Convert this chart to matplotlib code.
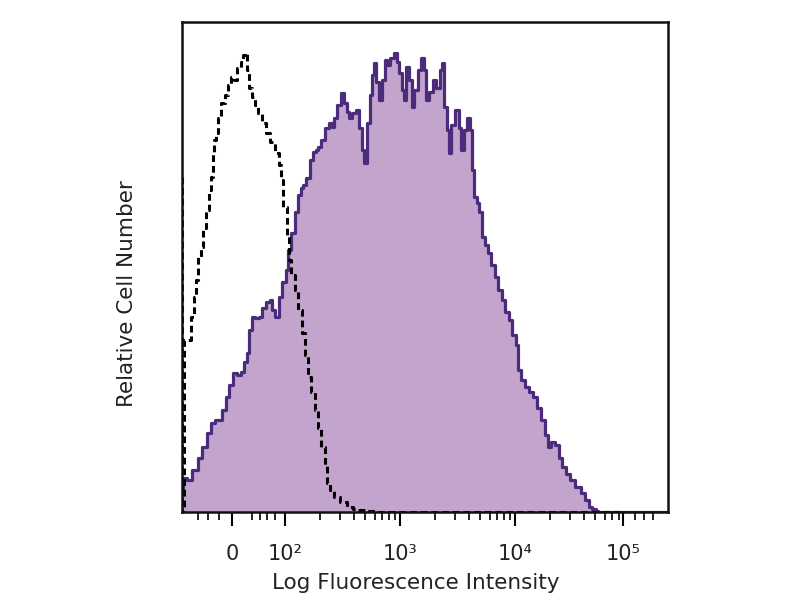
import math
import matplotlib
matplotlib.use("Agg")
import matplotlib.pyplot as plt

# x in decade units (2 = 10^2, 3 = 10^3 ...), y = relative cell number (% of axis height)
purple_x = [1.10, 1.13, 1.17, 1.22, 1.26, 1.30, 1.35, 1.37, 1.41, 1.43,
            1.47, 1.50, 1.53, 1.57, 1.60, 1.63, 1.65, 1.68, 1.70, 1.72,
            1.76, 1.78, 1.82, 1.85, 1.88, 1.90, 1.93, 1.96, 1.99, 2.02,
            2.04, 2.07, 2.10, 2.12, 2.15, 2.17, 2.20, 2.23, 2.25, 2.28,
            2.30, 2.33, 2.37, 2.39, 2.42, 2.44, 2.47, 2.50, 2.52, 2.55,
            2.57, 2.60, 2.63, 2.65, 2.68, 2.70, 2.72, 2.75, 2.77, 2.78,
            2.80, 2.83, 2.85, 2.88, 2.90, 2.93, 2.96, 2.98, 3.00, 3.03,
            3.04, 3.07, 3.09, 3.11, 3.14, 3.17, 3.19, 3.22, 3.24, 3.27,
            3.30, 3.33, 3.36, 3.37, 3.39, 3.42, 3.43, 3.46, 3.50, 3.52,
            3.54, 3.57, 3.59, 3.62, 3.63, 3.65, 3.68, 3.70, 3.72, 3.75,
            3.78, 3.81, 3.84, 3.87, 3.90, 3.93, 3.96, 3.99, 4.02, 4.04,
            4.07, 4.10, 4.14, 4.17, 4.21, 4.24, 4.28, 4.30, 4.33, 4.37,
            4.39, 4.42, 4.46, 4.50, 4.55, 4.59, 4.63, 4.65, 4.69, 4.71,
            4.74, 5.33]
purple_y = [4.5, 6.9, 6.5, 8.6, 11.0, 13.3, 16.1, 18.2, 18.8, 18.8,
            20.8, 23.5, 25.9, 28.4, 28.0, 28.6, 30.6, 32.4, 37.1, 39.8,
            39.6, 39.8, 41.6, 42.9, 43.3, 41.2, 39.8, 43.9, 46.9, 49.4,
            53.5, 56.9, 61.2, 64.7, 66.1, 66.7, 68.2, 71.8, 73.5, 73.9,
            74.5, 75.9, 78.4, 79.4, 78.6, 80.4, 83.1, 85.5, 83.5, 81.6,
            80.4, 81.4, 82.0, 78.4, 73.9, 71.2, 79.4, 85.1, 89.2, 91.6,
            87.8, 84.1, 88.2, 92.2, 91.2, 92.7, 93.7, 91.8, 89.6, 86.1,
            84.1, 90.8, 88.2, 82.7, 86.1, 90.2, 92.7, 90.2, 84.1, 85.7,
            88.2, 86.5, 90.2, 91.6, 82.7, 78.0, 73.3, 79.0, 82.0, 78.4,
            73.9, 78.0, 80.4, 78.0, 69.8, 64.3, 63.1, 61.2, 56.1, 54.5,
            52.9, 50.4, 48.0, 45.3, 43.3, 40.8, 39.2, 36.1, 34.1, 29.0,
            26.9, 25.5, 24.5, 23.5, 21.2, 18.8, 15.7, 13.3, 14.3, 13.7,
            11.0, 9.2, 7.8, 6.5, 5.1, 3.9, 2.4, 1.0, 0.6, 0.2,
            0.0, 0.0]

control_x = [1.104, 1.11, 1.14, 1.17, 1.20, 1.22, 1.23, 1.26, 1.28, 1.30,
             1.32, 1.35, 1.37, 1.38, 1.39, 1.41, 1.43, 1.46, 1.49, 1.51,
             1.55, 1.57, 1.60, 1.63, 1.64, 1.66, 1.68, 1.70, 1.72, 1.75,
             1.78, 1.82, 1.85, 1.89, 1.93, 1.96, 1.97, 2.00, 2.03, 2.04,
             2.07, 2.10, 2.13, 2.16, 2.18, 2.22, 2.24, 2.28, 2.30, 2.33,
             2.36, 2.37, 2.41, 2.45, 2.50, 2.57, 2.61, 2.65, 2.74, 2.83,
             4.90]
control_y = [68.4, 0.0, 35.1, 35.1, 39.8, 43.9, 47.3, 52.0, 54.1, 58.0,
             61.6, 65.7, 68.4, 73.3, 75.9, 77.3, 80.4, 83.5, 85.1, 87.1,
             88.8, 88.2, 90.6, 91.8, 93.3, 93.7, 90.2, 86.5, 84.7, 83.1,
             81.4, 79.4, 77.3, 75.5, 73.3, 70.8, 67.8, 62.2, 56.5, 51.4,
             48.4, 45.3, 41.2, 36.5, 32.0, 27.6, 24.5, 20.8, 17.1, 13.3,
             9.6, 5.9, 4.5, 3.1, 2.0, 1.0, 0.6, 0.4, 0.2, 0.0,
             0.0]

tick_pos = [1.54, 2.0, 3.0, 4.0, 4.94]
tick_labels = ["0", "10²", "10³", "10⁴", "10⁵"]

fill_color = "#C2A4CC"
edge_color = "#4B2B7B"
text_color = "#222222"

fig = plt.figure(figsize=(8, 6), dpi=100)
ax = fig.add_axes([182 / 800, 88 / 600, 486 / 800, 490 / 600])

ax.fill_between(purple_x, purple_y, step="mid", color=fill_color, linewidth=0)
ax.plot(purple_x, purple_y, drawstyle="steps-mid", color=edge_color, lw=2.3)
ax.plot(control_x, control_y, drawstyle="steps-mid", color="black", lw=2.2,
        linestyle=(0, (2.2, 1.3)))

ax.set_xlim(1.104, 5.33)
ax.set_ylim(0, 100)
ax.set_yticks([])

ax.set_xticks(tick_pos)
ax.set_xticklabels(tick_labels, fontsize=15, color=text_color)

minor = [1.24, 1.33, 1.43, 1.71, 1.78, 1.84, 1.91]
for d in (2, 3, 4):
    for k in range(2, 10):
        minor.append(d + math.log10(k))
minor = [m for m in minor if m < 4.94]
minor += [5.04, 5.12, 5.2]
ax.set_xticks(minor, minor=True)
ax.tick_params(axis="x", which="major", direction="out", length=10, width=1.5, pad=13)
ax.tick_params(axis="x", which="minor", direction="out", length=6, width=1.2)

for s in ax.spines.values():
    s.set_linewidth(1.8)
    s.set_color("#111111")

fig.text(416 / 800, 1 - 583 / 600, "Log Fluorescence Intensity", ha="center", va="center",
         fontsize=15.5, color=text_color)
fig.text(127 / 800, 1 - 294 / 600, "Relative Cell Number", ha="center", va="center",
         rotation=90, fontsize=15.5, color=text_color)

fig.savefig("out.png", dpi=100)
